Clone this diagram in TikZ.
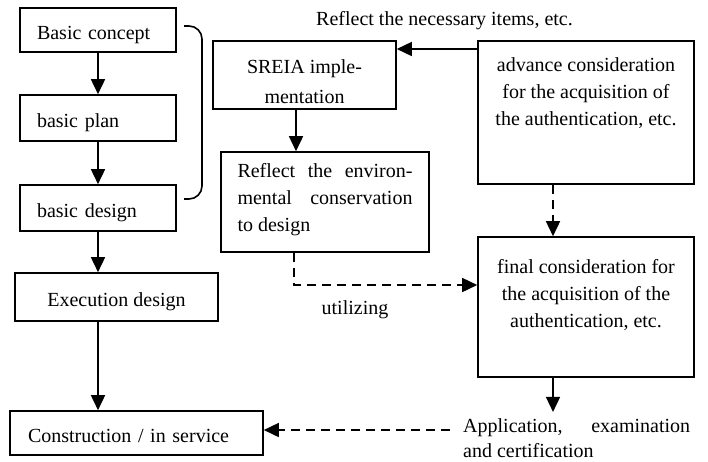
\documentclass[tikz,border=0pt]{standalone}
\usepackage{fontspec}
\setmainfont{Liberation Serif}
\usetikzlibrary{arrows.meta}
\newcommand{\tbox}[4]{\parbox[c][#2][t]{#1}{\vspace*{#3}#4}}
\tikzset{
  every node/.style={font=\fontsize{20}{27}\selectfont},
  box/.style={draw, line width=1.6pt, inner sep=0pt},
  sbox/.style={box, minimum height=#1, text height=18pt, text depth=0pt},
  lbox/.style={sbox=#1, inner xsep=17pt, text width=122pt, align=left},
  arr/.style={line width=1.6pt, -{Triangle[length=15pt,width=14pt]}},
  darr/.style={arr, dash pattern=on 9pt off 6pt},
  lbl/.style={inner sep=0pt}
}
\begin{document}
\begin{tikzpicture}[x=1pt,y=-1pt]
\useasboundingbox (0,0) rectangle (708,461);
% left column
\node[lbox=44pt] (c1) at (98,30) {Basic concept};
\node[lbox=46pt] (c2) at (98,118) {basic plan};
\node[lbox=46pt] (c3) at (98,208) {basic design};
\node[sbox=48pt, minimum width=203pt] (exe) at (116.5,297) {Execution design};
\node[sbox=44pt, inner xsep=18pt, text width=217pt, align=left] (con) at (136.5,433) {Construction / in service};
% brace
\draw[line width=1.6pt, rounded corners=13pt] (184,26) -- (202,26) -- (202,199) -- (184,199);
% middle
\node[box] (sreia) at (304.5,75) {\tbox{183pt}{68pt}{18.5pt}{\centering\fontsize{20}{30}\selectfont SREIA imple-\par mentation}};
\node[box] (refl) at (325,202) {\tbox{208pt}{100pt}{11pt}{\leftskip=16.5pt\parindent=0pt
  \makebox[175pt][s]{Reflect the environ-}\par
  \makebox[175pt][s]{mental conservation}\par
  to design}};
% right
\node[box] (adv) at (586,112.5) {\tbox{216pt}{143pt}{17pt}{\centering advance consideration\par for the acquisition of\par the authentication, etc.}};
\node[box] (final) at (586,307) {\tbox{216pt}{140pt}{22.5pt}{\centering final consideration for\par the acquisition of the\par authentication, etc.}};
\node[lbl, anchor=base west] (app) at (463,432) {\parbox[t]{227pt}{\fontsize{20}{25}\selectfont\makebox[227pt][s]{Application, examination}\par and certification}};
% labels
\node[lbl, anchor=base] (top) at (444.5,25) {Reflect the necessary items, etc.};
\node[lbl, anchor=base] (util) at (355,314) {utilizing};
% helper coordinates
\coordinate (ax) at (553,0);
\coordinate (sx) at (296,0);
\coordinate (ry) at (0,49);
\coordinate (u) at (294,285);
\coordinate (dy) at (0,430);
% connectors
\draw[arr] (c1) -- (c2);
\draw[arr] (c2) -- (c3);
\draw[arr] (c3.south) -- (c3.south |- exe.north);
\draw[arr] (exe.south -| c3.south) -- (con.north -| c3.south);
\draw[arr] (adv.west |- ry) -- (sreia.east |- ry);
\draw[arr] (sreia.south -| sx) -- (refl.north -| sx);
\draw[darr] (adv.south -| ax) -- (final.north -| ax);
\draw[darr] (refl.south -| u) -- (u) -- (u -| final.west);
\draw[arr, shorten >=6pt] (final.south -| ax) -- (app.north -| ax);
\draw[darr] ([xshift=-13pt]app.west |- dy) -- (con.east |- dy);
\end{tikzpicture}
\end{document}
